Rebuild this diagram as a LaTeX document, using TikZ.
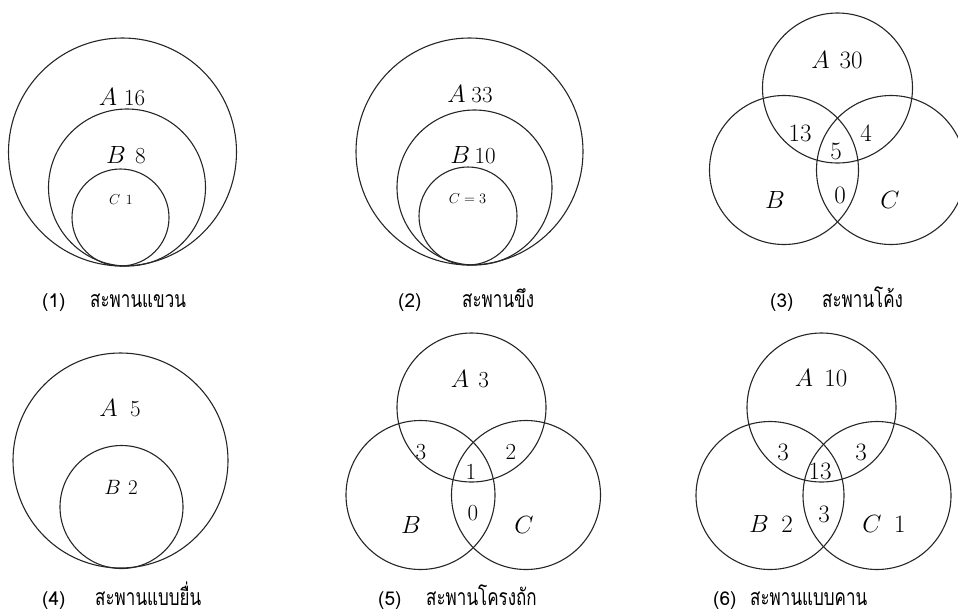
\documentclass[tikz,border=0pt]{standalone}
\usepackage{graphicx}
\usepackage{fontspec}
\newfontfamily\thaifont[Script=Thai]{Loma}
\newcommand{\thx}[1]{\scalebox{0.74}[1]{#1}}
\begin{document}
\begin{tikzpicture}[x=1pt,y=-1pt,
  ring/.style={circle,draw=black!85,line width=1.1pt,inner sep=0pt,minimum size=#1},
  big/.style={font=\fontsize{23}{25}\selectfont,inner sep=0pt},
  bigger/.style={font=\fontsize{25}{27}\selectfont,inner sep=0pt},
  mid/.style={font=\fontsize{21}{23}\selectfont,inner sep=0pt},
  small/.style={font=\fontsize{14}{16}\selectfont,inner sep=0pt},
  numcap/.style={font=\thaifont\fontsize{19}{21}\selectfont,anchor=base west,inner sep=0pt},
  thcap/.style={font=\thaifont\fontsize{23}{25}\selectfont,anchor=base west,inner sep=0pt}]
\useasboundingbox (0,0) rectangle (958,614);
% ---------- (1)
\node[ring=228pt] (p1a) at (122.5,152) {};
\node[ring=157pt] (p1b) at (127,187.5) {};
\node[ring=97pt]  (p1c) at (120.5,217.5) {};
\node[big] (l1a) at (122,97) {$A$\hspace{0.3em}16};
\node[big] (l1b) at (126,155) {$B$\hspace{0.4em}8};
\node[small] (l1c) at (121,200) {$C$\hspace{0.4em}1};
% ---------- (2)
\node[ring=227pt] (p2a) at (469.5,151.5) {};
\node[ring=155pt] (p2b) at (474.5,187.5) {};
\node[ring=98pt]  (p2c) at (468,216) {};
\node[big] (l2a) at (470,94) {$A$\hspace{0.25em}33};
\node[big] (l2b) at (473,155) {$B$\hspace{0.2em}10};
\node[small] (l2c) at (467.5,199) {$C=3$};
% ---------- (3)
\node[ring=150pt] (p3a) at (837.5,88) {};
\node[ring=149pt] (p3b) at (784,170) {};
\node[ring=149pt] (p3c) at (891,170) {};
\node[bigger] (l3a) at (837,60) {$A$\hspace{0.4em}30};
\node[bigger] (l3ab) at (800,133) {13};
\node[bigger] (l3ac) at (866,133) {4};
\node[bigger] (l3abc) at (836,151) {5};
\node[bigger] (l3bc) at (840,195) {0};
\node[bigger] (l3b) at (775,200) {$B$};
\node[bigger] (l3c) at (890,200) {$C$};
% ---------- (4)
\node[ring=215pt] (p4a) at (120.5,460.5) {};
\node[ring=123pt] (p4b) at (121.5,507) {};
\node[big] (l4a) at (120,408) {$A$\hspace{0.55em}5};
\node[mid] (l4b) at (121,487) {$B$\hspace{0.35em}2};
% ---------- (5)
\node[ring=149pt] (p5a) at (471.5,407.5) {};
\node[ring=149pt] (p5b) at (420.5,495) {};
\node[ring=149pt] (p5c) at (526,495) {};
\node[big] (l5a) at (470,379) {$A$\hspace{0.4em}3};
\node[big] (l5ab) at (421,452) {3};
\node[big] (l5ac) at (511,452) {2};
\node[big] (l5abc) at (471,472) {1};
\node[big] (l5bc) at (473,513) {0};
\node[big] (l5b) at (411,525) {$B$};
\node[big] (l5c) at (524,525) {$C$};
% ---------- (6)
\node[ring=149pt] (p6a) at (821.5,407.5) {};
\node[ring=148pt] (p6b) at (770,495.5) {};
\node[ring=148pt] (p6c) at (877,495.5) {};
\node[bigger] (l6a) at (821,378) {$A$\hspace{0.45em}10};
\node[bigger] (l6ab) at (783,452) {3};
\node[bigger] (l6ac) at (861,452) {3};
\node[bigger] (l6abc) at (820,471) {13};
\node[bigger] (l6bc) at (824,514) {3};
\node[bigger] (l6b) at (771,524) {$B$\hspace{0.5em}2};
\node[bigger] (l6c) at (884,524) {$C$\hspace{0.5em}1};
% ---------- captions
\node[numcap] (n1) at (42,307) {(1)};
\node[thcap]  (t1) at (90,307) {\thx{สะพานแขวน}};
\node[numcap] (n2) at (398,307) {(2)};
\node[thcap]  (t2) at (462,307) {\thx{สะพานขึง}};
\node[numcap] (n3) at (770,307) {(3)};
\node[thcap]  (t3) at (822,307) {\thx{สะพานโค้ง}};
\node[numcap] (n4) at (42,605) {(4)};
\node[thcap]  (t4) at (95,605) {\thx{สะพานแบบยื่น}};
\node[numcap] (n5) at (378,605) {(5)};
\node[thcap]  (t5) at (426,605) {\thx{สะพานโครงถัก}};
\node[numcap] (n6) at (713,605) {(6)};
\node[thcap]  (t6) at (750,605) {\thx{สะพานแบบคาน}};
\end{tikzpicture}
\end{document}
